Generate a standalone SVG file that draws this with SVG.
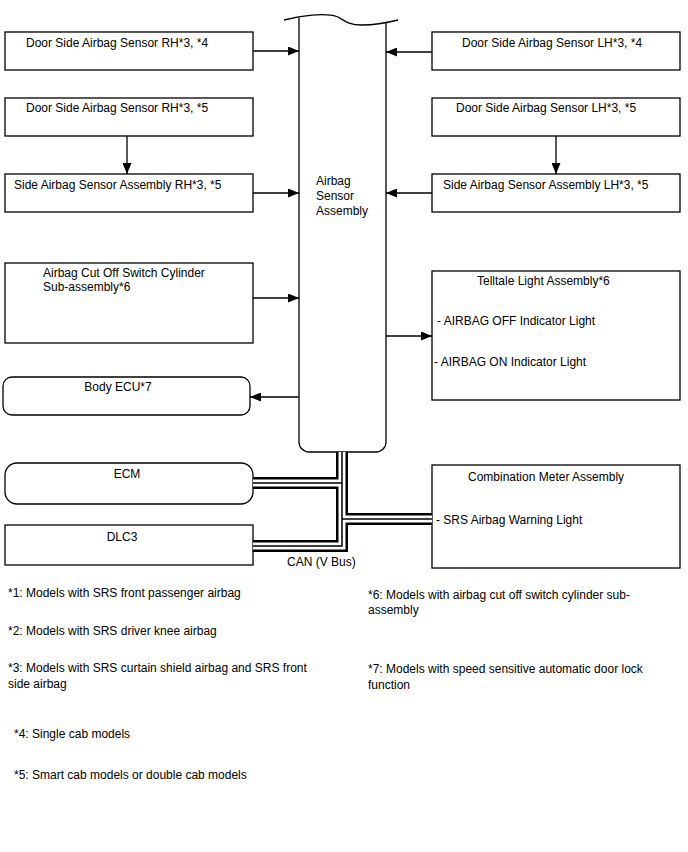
<svg xmlns="http://www.w3.org/2000/svg" width="688" height="852" viewBox="0 0 688 852">
<style>
text{font-family:"Liberation Sans",Arial,sans-serif;font-size:12px;fill:#000}
.box{fill:#fff;stroke:#000;stroke-width:1.3}
.ln{fill:none;stroke:#000;stroke-width:1.3}
.bus1{fill:none;stroke:#000;stroke-width:12;stroke-linejoin:miter}
.bus2{fill:none;stroke:#fff;stroke-width:7;stroke-linejoin:miter}
.bus3{fill:none;stroke:#000;stroke-width:1.5;stroke-linejoin:miter}
</style>
<defs>
<marker id="ah" markerUnits="userSpaceOnUse" markerWidth="11" markerHeight="9" refX="11" refY="4.5" orient="auto">
<path d="M0,0 L11,4.5 L0,9 z" fill="#000"/>
</marker>
</defs>
<rect width="688" height="852" fill="#fff"/>

<g id="airbag-sensor-assembly">
<path class="box" d="M299,17.5 V442 A10,10 0 0 0 309,452 H376 A10,10 0 0 0 386,442 V23"/>
<path class="ln" d="M284,20 C300,16 325,12 338,17 C346,22 350,25 362,25 C375,25 390,22 398,20"/>
<text x="316" y="185">Airbag</text>
<text x="316" y="200">Sensor</text>
<text x="316" y="215">Assembly</text>
</g>

<g id="door-rh-4"><rect class="box" x="5" y="32" width="248" height="38"/><text x="26" y="47">Door Side Airbag Sensor RH*3, *4</text></g>
<g id="door-rh-5"><rect class="box" x="5" y="98" width="248" height="38"/><text x="26" y="112">Door Side Airbag Sensor RH*3, *5</text></g>
<g id="side-rh"><rect class="box" x="5" y="174" width="248" height="38"/><text x="14" y="189">Side Airbag Sensor Assembly RH*3, *5</text></g>
<g id="cutoff"><rect class="box" x="5" y="263" width="248" height="80"/><text x="43" y="277">Airbag Cut Off Switch Cylinder</text><text x="43" y="291">Sub-assembly*6</text></g>
<g id="body-ecu"><rect class="box" x="3" y="377" width="247" height="38" rx="9"/><text x="118" y="391" text-anchor="middle">Body ECU*7</text></g>
<g id="ecm"><rect class="box" x="5" y="463" width="248" height="41" rx="12"/><text x="127" y="478" text-anchor="middle">ECM</text></g>
<g id="dlc3"><rect class="box" x="5" y="525" width="248" height="40"/><text x="122" y="541" text-anchor="middle">DLC3</text></g>

<g id="door-lh-4"><rect class="box" x="432" y="32" width="248" height="38"/><text x="462" y="47">Door Side Airbag Sensor LH*3, *4</text></g>
<g id="door-lh-5"><rect class="box" x="432" y="98" width="248" height="38"/><text x="456" y="112">Door Side Airbag Sensor LH*3, *5</text></g>
<g id="side-lh"><rect class="box" x="432" y="174" width="248" height="38"/><text x="443" y="189">Side Airbag Sensor Assembly LH*3, *5</text></g>
<g id="telltale"><rect class="box" x="432" y="271" width="248" height="129"/><text x="477" y="285">Telltale Light Assembly*6</text><text x="437" y="325">- AIRBAG OFF Indicator Light</text><text x="434" y="366">- AIRBAG ON Indicator Light</text></g>
<g id="combination-meter"><rect class="box" x="432" y="465" width="248" height="103"/><text x="468" y="481">Combination Meter Assembly</text><text x="436" y="524">- SRS Airbag Warning Light</text></g>

<g id="connectors">
<line class="ln" x1="253" y1="51" x2="299" y2="51" marker-end="url(#ah)"/>
<line class="ln" x1="127" y1="136" x2="127" y2="174" marker-end="url(#ah)"/>
<line class="ln" x1="253" y1="193" x2="299" y2="193" marker-end="url(#ah)"/>
<line class="ln" x1="253" y1="298" x2="299" y2="298" marker-end="url(#ah)"/>
<line class="ln" x1="299" y1="397" x2="250" y2="397" marker-end="url(#ah)"/>
<line class="ln" x1="432" y1="52" x2="386" y2="52" marker-end="url(#ah)"/>
<line class="ln" x1="556" y1="136" x2="556" y2="174" marker-end="url(#ah)"/>
<line class="ln" x1="432" y1="193" x2="386" y2="193" marker-end="url(#ah)"/>
<line class="ln" x1="386" y1="336" x2="432" y2="336" marker-end="url(#ah)"/>
<g id="can-bus">
<path class="bus1" d="M342,452 V546 H253 M342,483 H253 M342,519 H432"/>
<path class="bus2" d="M342,452 V546 H253 M342,483 H253 M342,519 H432"/>
<path class="bus3" d="M342,452 V546 H253 M342,483 H253 M342,519 H432"/>
</g>
<text x="287" y="566">CAN (V Bus)</text>
</g>

<g id="notes">
<text x="8" y="597">*1: Models with SRS front passenger airbag</text>
<text x="8" y="635">*2: Models with SRS driver knee airbag</text>
<text x="8" y="672">*3: Models with SRS curtain shield airbag and SRS front</text>
<text x="8" y="688">side airbag</text>
<text x="14" y="738">*4: Single cab models</text>
<text x="14" y="779">*5: Smart cab models or double cab models</text>
<text x="368" y="599">*6: Models with airbag cut off switch cylinder sub-</text>
<text x="368" y="614">assembly</text>
<text x="368" y="673">*7: Models with speed sensitive automatic door lock</text>
<text x="368" y="689">function</text>
</g>
</svg>
